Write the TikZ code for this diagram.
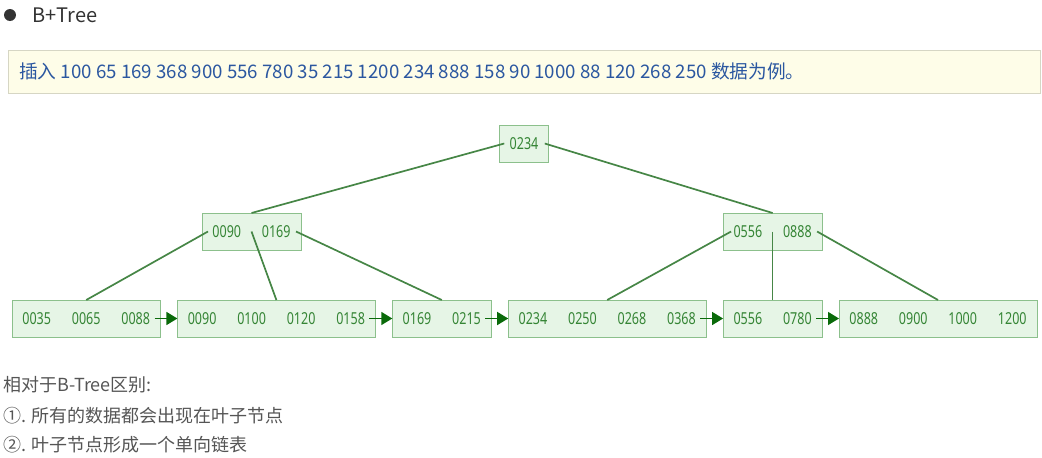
\documentclass[tikz,border=0pt]{standalone}
\usepackage{fontspec}
\setmainfont{Noto Sans CJK SC}
\newfontfamily\keyfont[FakeStretch=0.76]{Noto Sans}
\usetikzlibrary{positioning,arrows.meta}

\definecolor{boxfill}{HTML}{E6F5E6}
\definecolor{boxborder}{HTML}{8CC08C}
\definecolor{keytext}{HTML}{358535}
\definecolor{branchline}{HTML}{468646}
\definecolor{arrowgreen}{HTML}{0A6A0A}
\definecolor{titlegray}{HTML}{333333}
\definecolor{noteyellow}{HTML}{FEFDE8}
\definecolor{notegray}{HTML}{D6D6C4}
\definecolor{noteblue}{HTML}{2B57A0}
\definecolor{textgray}{HTML}{555555}

\newcommand\cell[1]{\makebox[49.5pt]{#1}}

\begin{document}
\begin{tikzpicture}[x=1pt,y=-1pt,
                    treenode/.style={draw=boxborder,fill=boxfill,line width=1pt,inner sep=0pt,outer sep=0pt,
                                     minimum height=37pt,text=keytext,font=\keyfont\fontsize{16.5}{16.5}\selectfont},
                    branch/.style={draw=branchline,line width=1.7pt},
                    link/.style={draw=arrowgreen,line width=1.5pt,-{Triangle[length=11pt,width=13pt]}}
]
\useasboundingbox (0,0) rectangle (1042,458);

% header
\node [circle,fill=titlegray,minimum size=12pt,inner sep=0pt] at (10,15) (dot) {};
\node [anchor=west,text=titlegray,font=\fontsize{20}{20}\selectfont] at (29,15) (title) {B+Tree};
\node [draw=notegray,fill=noteyellow,line width=0.8pt,anchor=north west,inner sep=0pt,
       minimum width=1032pt,minimum height=43pt] at (8,50) (note) {};
\node [anchor=west,text=noteblue,inner sep=0pt,font=\fontsize{18.7}{18.7}\selectfont] at ([xshift=11pt]note.west) (notetext)
      {插入 100 65 169 368 900 556 780 35 215 1200 234 888 158 90 1000 88 120 268 250 数据为例。};
%
% leaves
\node [treenode] at (86.25,318.5) (l1) {\cell{0035}\cell{0065}\cell{0088}};
\node [treenode, right=16.9pt of l1] (l2) {\cell{0090}\cell{0100}\cell{0120}\cell{0158}};
\node [treenode, right=16.9pt of l2] (l3) {\cell{0169}\cell{0215}};
\node [treenode, right=16.9pt of l3] (l4) {\cell{0234}\cell{0250}\cell{0268}\cell{0368}};
\node [treenode, right=16.9pt of l4] (l5) {\cell{0556}\cell{0780}};
\node [treenode, right=16.9pt of l5] (l6) {\cell{0888}\cell{0900}\cell{1000}\cell{1200}};
%
% inner nodes
\node [treenode] at (524,143.5) (root) {\cell{0234}};
\node [treenode] at (251.5,231.5) (in1) {\cell{0090}\cell{0169}};
\node [treenode] at (l5 |- in1) (in2) {\cell{0556}\cell{0888}};
%
\draw [branch] ([xshift=5pt]root.west) -- (in1.north);
\draw [branch] ([xshift=-4pt]root.east) -- (in2.north);
\draw [branch] ([xshift=6pt]in1.west) -- (l1.north);
\draw [branch] (in1.center) -- (l2.north);
\draw [branch] ([xshift=-5pt]in1.east) -- (l3.north);
\draw [branch] ([xshift=8pt]in2.west) -- (l4.north);
\draw [branch] (in2.center) -- (l5.north);
\draw [branch] ([xshift=-5pt]in2.east) -- (l6.north);
%
\foreach \a/\b in {l1/l2,l2/l3,l3/l4,l4/l5,l5/l6}
  \draw [link] ([xshift=-6pt]\a.east) -- (\b.west);
%
% notes below
\node [anchor=west,inner sep=0pt,text=textgray,font=\fontsize{18}{18}\selectfont] at (3,385) (diff) {相对于B-Tree区别:};
\node [anchor=west,inner sep=0pt,text=textgray,font=\fontsize{18}{18}\selectfont] at (3,416) (pointa) {①. 所有的数据都会出现在叶子节点};
\node [anchor=west,inner sep=0pt,text=textgray,font=\fontsize{18}{18}\selectfont] at (3,445) (pointb) {②. 叶子节点形成一个单向链表};
\end{tikzpicture}
\end{document}
